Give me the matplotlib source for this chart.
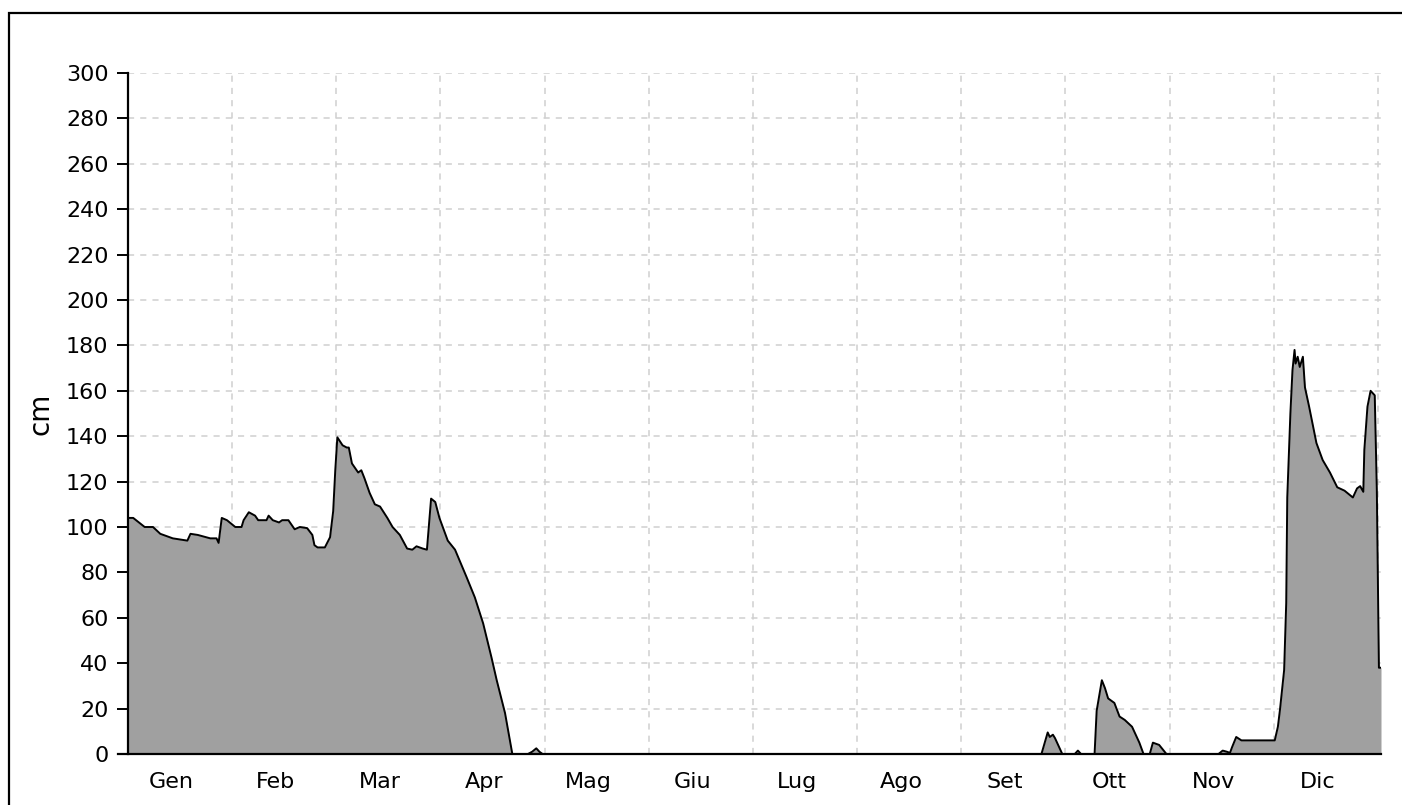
import matplotlib
matplotlib.use("Agg")
import matplotlib.pyplot as plt
from matplotlib.patches import Rectangle

# month labels (italian), one per month
months = ["Gen", "Feb", "Mar", "Apr", "Mag", "Giu", "Lug", "Ago", "Set", "Ott", "Nov", "Dic"]

# snow depth (cm), position in months from 1 Jan (0) to 31 Dec (12)
pos = [0.00, 0.05, 0.16, 0.24, 0.31, 0.43, 0.57, 0.60, 0.67, 0.79, 0.85, 0.87,
       0.90, 0.95, 1.03, 1.09, 1.11, 1.16, 1.22, 1.25, 1.33, 1.35, 1.39, 1.45,
       1.48, 1.54, 1.60, 1.65, 1.72, 1.77, 1.79, 1.82, 1.89, 1.94, 1.97, 1.99,
       2.01, 2.06, 2.10, 2.12, 2.15, 2.21, 2.24, 2.27, 2.32, 2.37, 2.42, 2.49,
       2.54, 2.61, 2.68, 2.73, 2.77, 2.83, 2.87, 2.88, 2.91, 2.95, 2.99, 3.07,
       3.14, 3.25, 3.33, 3.41, 3.49, 3.54, 3.62, 3.69,
       3.84, 3.88, 3.92, 3.95, 3.98,
       8.77, 8.83, 8.85, 8.88, 8.90, 8.93, 8.97,
       9.09, 9.12, 9.15,
       9.28, 9.30, 9.35, 9.38, 9.41, 9.47, 9.52, 9.57, 9.64, 9.71, 9.75,
       9.81, 9.84, 9.90, 9.97,
       10.47, 10.51, 10.55, 10.58, 10.60, 10.64, 10.69,
       11.01, 11.04, 11.06, 11.10, 11.12, 11.13, 11.16, 11.18, 11.20, 11.21,
       11.23, 11.25, 11.28, 11.30, 11.34, 11.41, 11.47, 11.54, 11.61, 11.68,
       11.76, 11.80, 11.83, 11.86, 11.87, 11.90, 11.93, 11.97, 11.99, 12.01, 12.03]
depth = [104, 104, 100, 100, 97, 95, 94, 97, 96.5, 95, 95, 93,
         104, 103, 100, 100, 103, 106.5, 105, 103, 103, 105, 103, 102,
         103, 103, 99, 100, 99.5, 96.5, 92, 91, 91, 95.5, 107, 125,
         139.5, 136, 135, 135, 128, 124, 125, 121.5, 115, 110, 109, 104,
         100, 96.5, 90.5, 90, 91.5, 90.5, 90, 95.5, 112.5, 111, 104, 94,
         90, 78, 69, 57.5, 42.5, 32.5, 18, 0,
         0, 1, 2.5, 1, 0,
         0, 9.5, 7.5, 8.5, 7, 4, 0,
         0, 1.5, 0,
         0, 19, 32.5, 29, 24.5, 22.5, 16.5, 15, 12, 5, 0,
         0, 5, 4, 0,
         0, 1.5, 1, 0.5, 3, 7.5, 6,
         6, 12, 19.5, 37, 66.5, 113, 150, 169, 178, 172,
         175, 170.5, 175, 161.5, 153, 137, 129.5, 124, 117.5, 116,
         113, 117, 118, 115.5, 134, 153, 160, 158, 116, 38, 38]

W, H = 1402, 805
fig = plt.figure(figsize=(W / 100, H / 100), dpi=100)
ax = fig.add_axes([128 / W, 1 - 754 / H, (1381 - 128) / W, (754 - 73) / H])

ax.fill_between(pos, depth, 0, color="#a0a0a0", linewidth=0, zorder=2)
ax.plot(pos, depth, color="black", linewidth=1.4, zorder=3)

ax.set_xlim(0, 12.03)
ax.set_ylim(0, 300)
ax.set_yticks(range(0, 301, 20))
ax.set_xticks(range(1, 13))
ax.set_xticks([i + 0.42 for i in range(12)], minor=True)
ax.set_xticklabels([])
ax.set_xticklabels(months, minor=True)

ax.grid(True, which="major", color="#d0d0d0", linestyle=(0, (4, 4)), linewidth=1.1, zorder=1)
ax.tick_params(axis="x", which="both", length=0, pad=13, labelsize=16)
ax.tick_params(axis="y", length=8, width=1.4, pad=6, labelsize=16, direction="out")

for side in ["top", "right"]:
    ax.spines[side].set_visible(False)
for side in ["left", "bottom"]:
    ax.spines[side].set_linewidth(1.6)
ax.spines["bottom"].set_bounds(-0.1, 12.03)
ax.spines["bottom"].set_zorder(4)

ax.set_ylabel("cm", fontsize=20, labelpad=8)

# outer frame, cut by the right and bottom edge of the image
fig.patches.append(Rectangle((9 / W, -0.1), 1.2, 1 - 13 / H + 0.1, transform=fig.transFigure,
                             fill=False, edgecolor="black", linewidth=1.6))

fig.savefig("out.png", dpi=100)
